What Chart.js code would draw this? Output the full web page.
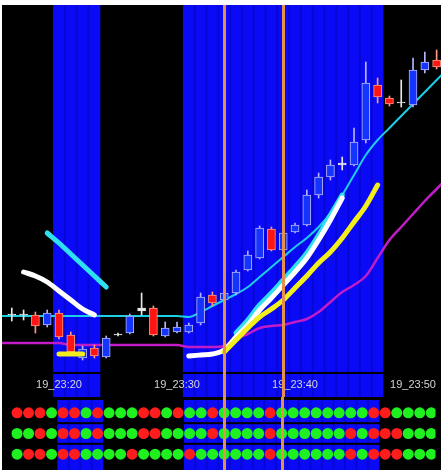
<!DOCTYPE html>
<html>
<head>
<meta charset="utf-8">
<script src="https://cdn.jsdelivr.net/npm/chart.js@4.4.1/dist/chart.umd.min.js"></script>
<style>
  html, body { margin: 0; padding: 0; background: #fff; }
  #wrap { position: absolute; left: 2px; top: 5px; width: 439px; height: 465px; background: #000; }
  #mainBox { position: absolute; left: 0; top: 0; width: 439px; height: 392px; }
  #dotBox { position: absolute; left: 0; top: 392px; width: 439px; height: 73px; }
</style>
</head>
<body>
<div id="wrap">
  <div id="mainBox"><canvas id="mainChart"></canvas></div>
  <div id="dotBox"><canvas id="dotChart"></canvas></div>
</div>
<script>
// minutes after 19_23:00, one candle per minute
const minutes = [16,17,18,19,20,21,22,23,24,25,26,27,28,29,30,31,32,33,34,35,36,37,38,39,40,41,42,43,44,45,46,47,48,49,50,51,52];
const opens  = [58,58,58,48,60,38,15,25,16,38,40,62,65,37,41,41,50,78,73,80,103,115,144,123,141,148,178,196,208,208,233,288,275,270,268,303,313];
const closes = [59,59,47,60,36,21,24,17,35,39,57,65,38,45,46,48,76,70,80,101,118,145,123,140,148,178,196,208,210,231,290,276,269,271,303,311,306];
const highs  = [65,63,61,63,63,41,27,28,37,40,59,80,67,51,51,50,80,81,82,103,122,147,146,142,150,183,200,213,216,245,311,295,277,293,315,321,323];
const lows   = [52,53,40,46,34,18,13,15,15,37,39,58,37,36,40,40,48,67,72,78,102,114,122,121,140,147,175,193,203,207,230,270,267,266,266,300,304];

// indicator lines, one value per minute 15..53 (null = not drawn)
const lineMinutes = [15,16,17,18,19,20,21,22,23,24,25,26,27,28,29,30,31,32,33,34,35,36,37,38,39,40,41,42,43,44,45,46,47,48,49,50,51,52,53];
const maCyan    = [57,57,57,57,57,57,57,57,57,57,57,57,57,57,57,57,56,61,67,73,79,86,96,106,116,126,135,146,160,178,198,218,233,245,257,269,281,293,305];
const maMagenta = [30,30,30,30,30,30,28,28,28,28,28,28,28,28,28,28,26,26,26,27,34,39,45,47,48,51,54,61,71,81,88,97,115,133,146,159,172,184,196];
const fastWhite = [null,null,101,97,91,82,73,64,58,null,null,null,null,null,null,null,17,18,19,23,36,48,63,75,88,101,115,133,153,175,null,null,null,null,null,null,null,null,null];
const fastCyan  = [null,null,null,null,140,130,119,108,97,86,null,null,null,null,null,null,null,null,null,null,40,53,68,80,93,106,120,138,158,178,null,null,null,null,null,null,null,null,null];
const fastYellow= [null,null,null,null,null,19,19,19,null,null,null,null,null,null,null,null,null,null,null,21,33,45,56,64,73,85,97,110,121,135,151,167,188,null,null,null,null,null,null];

const tickMinutes = [20, 30, 40, 50];
const tickLabels = ["19_23:20", "19_23:30", "19_23:40", "19_23:50"];

// session highlight and vertical markers (in minutes)
const bandFrom = [19.5, 30.5];
const bandTo = [23.5, 47.5];
const markerMinutes = [34, 39];

// signal rows: 1 = green, -1 = red
const signalRows = ["s1", "s2", "s3"];
const signal1 = [-1,-1,-1,1,-1,-1,1,-1,1,1,1,-1,-1,1,-1,1,1,-1,1,1,1,1,-1,1,1,1,1,1,1,1,1,-1,-1,1,1,1,1];
const signal2 = [1,1,-1,1,-1,-1,1,-1,1,1,1,-1,-1,1,1,1,1,-1,1,1,1,1,-1,1,1,1,1,1,1,-1,1,-1,-1,-1,1,1,1];
const signal3 = [1,-1,-1,1,-1,-1,1,1,1,1,-1,1,1,1,1,-1,1,1,1,1,1,1,-1,1,1,1,1,1,1,-1,1,-1,-1,-1,1,1,1];

const X_MIN = 15.17, X_MAX = 52.37;

function candleKind(i) {
  const d = closes[i] - opens[i];
  if (Math.abs(d) <= 3) return "doji";
  return d > 0 ? "up" : "down";
}
const bodyFill = { up: "#1434ff", down: "#ff1414", doji: "#e6e6e6" };
const bodyEdge = { up: "#b4b4ff", down: "#ff9a80", doji: "#e6e6e6" };

function lineData(arr) {
  return lineMinutes.map((m, i) => ({ x: m, y: arr[i] }));
}

const backdrop = {
  id: "backdrop",
  beforeDraw(chart) {
    const ctx = chart.ctx;
    const xs = chart.scales.x;
    ctx.save();
    ctx.fillStyle = "#000";
    ctx.fillRect(0, 0, chart.width, chart.height);
    for (let i = 0; i < bandFrom.length; i++) {
      const x1 = xs.getPixelForValue(bandFrom[i]);
      const x2 = xs.getPixelForValue(bandTo[i]);
      ctx.fillStyle = "#0a0af6";
      ctx.fillRect(x1, 0, x2 - x1, chart.height);
      ctx.fillStyle = "rgba(0,0,90,0.22)";
      for (let m = bandFrom[i] + 1; m < bandTo[i]; m++) {
        ctx.fillRect(xs.getPixelForValue(m) - 1, 0, 2, chart.height);
      }
    }
    if (chart.scales.y.type === "category") {
      const ys = chart.scales.y;
      ctx.fillStyle = "#000";
      ctx.fillRect(0, 0, chart.width, 3);
      for (let r = 0; r < signalRows.length - 1; r++) {
        const mid = (ys.getPixelForValue(r) + ys.getPixelForValue(r + 1)) / 2;
        ctx.fillRect(0, mid - 1, chart.width, 2);
      }
    }
    ctx.restore();
  }
};

const markers = {
  id: "markers",
  afterDatasetsDraw(chart) {
    const ctx = chart.ctx;
    const xs = chart.scales.x;
    ctx.save();
    ctx.strokeStyle = "#e3914c";
    ctx.lineWidth = 3;
    markerMinutes.forEach(m => {
      const x = Math.round(xs.getPixelForValue(m)) + 0.5;
      ctx.beginPath();
      ctx.moveTo(x, 0);
      ctx.lineTo(x, chart.height);
      ctx.stroke();
    });
    ctx.restore();
  }
};

const kinds = minutes.map((m, i) => candleKind(i));

new Chart(document.getElementById("mainChart"), {
  type: "bar",
  data: {
    datasets: [
      {
        label: "trend",
        type: "line",
        data: lineData(maMagenta),
        borderColor: "#c21cc8",
        borderWidth: 2.5,
        pointRadius: 0,
        cubicInterpolationMode: "monotone",
        order: 9
      },
      {
        label: "ma",
        type: "line",
        data: lineData(maCyan),
        borderColor: "#1ccfe6",
        borderWidth: 2,
        pointRadius: 0,
        cubicInterpolationMode: "monotone",
        order: 8
      },
      {
        label: "wick",
        data: minutes.map((m, i) => ({ x: m, y: [lows[i], highs[i]] })),
        backgroundColor: kinds.map(k => bodyEdge[k]),
        barThickness: 1,
        grouped: false,
        order: 7
      },
      {
        label: "body",
        data: minutes.map((m, i) => ({ x: m, y: [opens[i], closes[i]] })),
        backgroundColor: kinds.map(k => bodyFill[k]),
        borderColor: kinds.map(k => bodyEdge[k]),
        borderWidth: 1,
        borderSkipped: false,
        barThickness: 8,
        grouped: false,
        order: 6
      },
      {
        label: "fast cyan",
        type: "line",
        data: lineData(fastCyan),
        borderColor: "#2ee0f0",
        borderWidth: 5,
        borderCapStyle: "round",
        pointRadius: 0,
        spanGaps: false,
        cubicInterpolationMode: "monotone",
        order: 5
      },
      {
        label: "fast white",
        type: "line",
        data: lineData(fastWhite),
        borderColor: "#ffffff",
        borderWidth: 5,
        borderCapStyle: "round",
        pointRadius: 0,
        spanGaps: false,
        cubicInterpolationMode: "monotone",
        order: 4
      },
      {
        label: "fast yellow",
        type: "line",
        data: lineData(fastYellow),
        borderColor: "#f2ee1e",
        borderWidth: 5,
        borderCapStyle: "round",
        pointRadius: 0,
        spanGaps: false,
        cubicInterpolationMode: "monotone",
        order: 3
      }
    ]
  },
  options: {
    responsive: true,
    maintainAspectRatio: false,
    animation: false,
    layout: { padding: 0 },
    plugins: { legend: { display: false }, tooltip: { enabled: false } },
    scales: {
      x: {
        type: "linear",
        min: X_MIN,
        max: X_MAX,
        offset: false,
        grid: { display: false, drawTicks: false },
        border: { display: true, color: "#000", width: 2 },
        afterBuildTicks: s => { s.ticks = tickMinutes.map(v => ({ value: v })); },
        afterFit: s => { s.height = 24; },
        ticks: {
          color: "#d4d4d4",
          font: { family: "Liberation Sans", size: 11 },
          maxRotation: 0,
          autoSkip: false,
          padding: 5,
          callback: (v, i) => tickLabels[i]
        }
      },
      y: { type: "linear", display: false, min: 0, max: 368 }
    }
  },
  plugins: [backdrop, markers]
});

function dotSet(row, sig) {
  return {
    data: minutes.map(m => ({ x: m, y: row })),
    pointBackgroundColor: sig.map(s => s > 0 ? "#1ff01f" : "#ff1c1c"),
    pointBorderWidth: 0,
    pointRadius: 5.5
  };
}

new Chart(document.getElementById("dotChart"), {
  type: "scatter",
  data: {
    datasets: [
      dotSet("s1", signal1),
      dotSet("s2", signal2),
      dotSet("s3", signal3)
    ]
  },
  options: {
    responsive: true,
    maintainAspectRatio: false,
    animation: false,
    layout: { padding: 0 },
    plugins: { legend: { display: false }, tooltip: { enabled: false } },
    scales: {
      x: { type: "linear", min: X_MIN, max: X_MAX, display: false },
      y: { type: "category", labels: signalRows, offset: true, display: false }
    }
  },
  plugins: [backdrop, markers]
});
</script>
</body>
</html>
